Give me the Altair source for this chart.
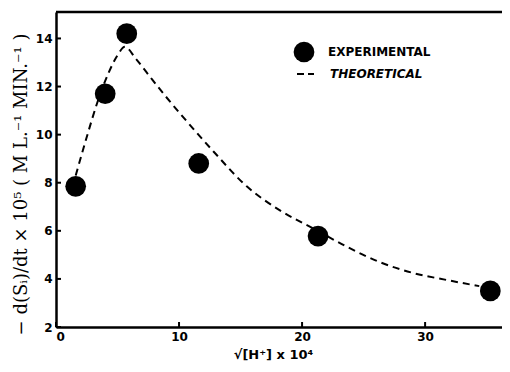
import altair as alt
import pandas as pd

# Data
exp_x = [1.6, 4.0, 5.75, 11.6, 21.3, 35.3]
exp_y = [7.85, 11.7, 14.2, 8.8, 5.78, 3.5]
theo_x = [1.6, 2.5, 3.4, 4.3, 5.0, 5.6, 6.5, 7.5, 8.9, 10.3, 12.8, 15.5, 18.2,
          20.9, 23.6, 26.3, 29.0, 31.8, 34.4]
theo_y = [8.3, 9.9, 11.4, 12.6, 13.3, 13.65, 13.15, 12.5, 11.6, 10.75, 9.3, 7.85,
          6.85, 6.1, 5.35, 4.7, 4.25, 3.95, 3.7]
x_ticks = [0, 10, 20, 30]
y_ticks = [2, 4, 6, 8, 10, 12, 14]
legend_labels = ["EXPERIMENTAL", "THEORETICAL"]
x_title = "√[H⁺] x 10⁴"
y_title = "− d(Sᵢ)/dt  ×  10⁵  ( M  L.⁻¹  MIN.⁻¹ )"

W, H = 446, 315
xs = alt.Scale(domain=[0, 36.25], nice=False, zero=False)
ys = alt.Scale(domain=[2, 15.1], nice=False, zero=False)

exp_df = pd.DataFrame({"x": exp_x, "y": exp_y})
theo_df = pd.DataFrame({"x": theo_x, "y": theo_y})
xt_df = pd.DataFrame({"x": x_ticks})
yt_df = pd.DataFrame({"y": y_ticks})

lab_font = "DejaVu Sans"

x_axis = alt.Axis(values=x_ticks, tickSize=0, grid=False, domainWidth=2.5,
                  domainColor="black", labelFont=lab_font, labelFontWeight="bold",
                  labelFontSize=12, labelPadding=4, labelColor="black",
                  title=x_title, titleFont=lab_font, titleFontWeight="bold",
                  titleFontSize=13, titleX=217, titleY=27, titleBaseline="middle",
                  titleColor="black")
y_axis = alt.Axis(values=y_ticks, tickSize=0, grid=False, domainWidth=2.5,
                  domainColor="black", labelFont=lab_font, labelFontWeight="bold",
                  labelFontSize=12, labelPadding=4, labelColor="black",
                  title=y_title, titleFont="DejaVu Serif", titleFontWeight="normal",
                  titleFontSize=18, titleX=-35, titleY=172, titleAngle=-90,
                  titleAlign="center", titleBaseline="middle", titleColor="#000000")

X = lambda f: alt.X(f"{f}:Q", scale=xs, axis=x_axis)
Y = lambda f: alt.Y(f"{f}:Q", scale=ys, axis=y_axis)

points = alt.Chart(exp_df).mark_circle(size=430, opacity=1, color="black").encode(
    x=X("x"), y=Y("y"))

line = alt.Chart(theo_df).mark_line(color="black", strokeWidth=2,
                                    strokeDash=[7, 5],
                                    interpolate="monotone").encode(
    x=X("x"), y=Y("y"))

xticks = alt.Chart(xt_df).mark_rule(color="black", strokeWidth=2).encode(
    x=X("x"), y=alt.value(H), y2=alt.value(H - 5))
yticks = alt.Chart(yt_df).mark_rule(color="black", strokeWidth=2).encode(
    y=Y("y"), x=alt.value(0), x2=alt.value(5))

top_border = alt.Chart(pd.DataFrame({"a": [0]})).mark_rule(
    color="black", strokeWidth=2.5).encode(
    x=alt.value(0), x2=alt.value(W), y=alt.value(0))

leg_df1 = pd.DataFrame({"label": [legend_labels[0]]})
leg_df2 = pd.DataFrame({"label": [legend_labels[1]]})

leg_circle = alt.Chart(leg_df1).mark_circle(size=430, opacity=1, color="black").encode(
    x=alt.value(248), y=alt.value(40))
leg_text1 = alt.Chart(leg_df1).mark_text(
    align="left", baseline="middle", font=lab_font, fontWeight="bold",
    fontSize=12, color="black").encode(
    x=alt.value(272), y=alt.value(40), text="label:N")
leg_dash = alt.Chart(leg_df2).mark_rule(color="black", strokeWidth=2,
                                        strokeDash=[7, 4]).encode(
    x=alt.value(241), x2=alt.value(258), y=alt.value(62))
leg_text2 = alt.Chart(leg_df2).mark_text(
    align="left", baseline="middle", font=lab_font, fontWeight="bold",
    fontStyle="italic", fontSize=12, color="black").encode(
    x=alt.value(274), y=alt.value(62), text="label:N")

chart = alt.layer(
    points, line, xticks, yticks, top_border,
    leg_circle, leg_text1, leg_dash, leg_text2
).properties(
    width=W, height=H,
    autosize=alt.AutoSizeParams(type="none"),
    padding={"left": 48, "top": 4, "right": 0, "bottom": 35},
    background="white",
).configure_view(stroke=None)

chart.save("out.html", embed_options={"renderer": "svg", "actions": False})
